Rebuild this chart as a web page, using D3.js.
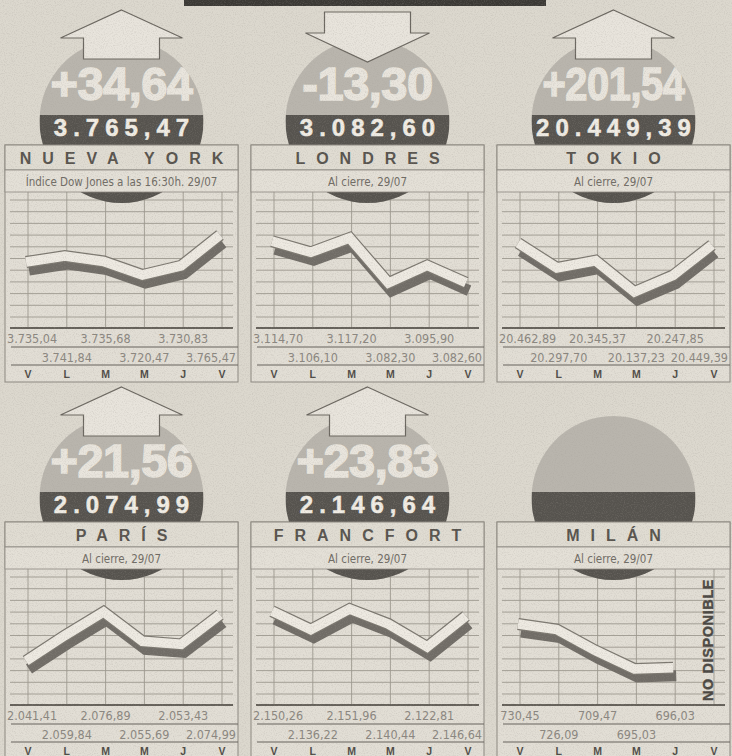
<!DOCTYPE html>
<html>
<head>
    <title>Bolsas internacionales</title>
    <script src="https://cdnjs.cloudflare.com/ajax/libs/d3/7.8.5/d3.min.js"></script>
    <style>
        body {
            margin: 0;
            padding: 0;
            background: #dcd8ce;
        }
        svg {
            display: block;
        }
        .narrow {
            font-family: 'Liberation Sans Narrow', 'DejaVu Sans Condensed', 'Arial Narrow', sans-serif;
        }
        .wide {
            font-family: 'Liberation Sans', Arial, sans-serif;
            font-weight: bold;
        }
    </style>
</head>
<body>
    <div id="chart"></div>

    <script>
        // Markets (one panel each, left to right, top to bottom)
        const markets = ["NUEVA YORK", "LONDRES", "TOKIO", "PARÍS", "FRANCFORT", "MILÁN"];
        const subtitles = [
            "Índice Dow Jones a las 16:30h. 29/07",
            "Al cierre, 29/07",
            "Al cierre, 29/07",
            "Al cierre, 29/07",
            "Al cierre, 29/07",
            "Al cierre, 29/07"
        ];
        const changes = ["+34,64", "-13,30", "+201,54", "+21,56", "+23,83", null];
        const closes = ["3.765,47", "3.082,60", "20.449,39", "2.074,99", "2.146,64", null];
        const days = ["V", "L", "M", "M", "J", "V"];

        // Daily closes, V L M M J V
        const nuevaYork = [3735.04, 3741.84, 3735.68, 3720.47, 3730.83, 3765.47];
        const londres = [3114.70, 3106.10, 3117.20, 3082.30, 3095.90, 3082.60];
        const tokio = [20462.89, 20297.70, 20345.37, 20137.23, 20247.85, 20449.39];
        const paris = [2041.41, 2059.84, 2076.89, 2055.69, 2053.43, 2074.99];
        const francfort = [2150.26, 2136.22, 2151.96, 2140.44, 2122.81, 2146.64];
        const milan = [730.45, 726.09, 709.47, 695.03, 696.03];   // last day not available
        const series = [nuevaYork, londres, tokio, paris, francfort, milan];

        // ---- layout (pixels) ----
        const W = 732, H = 756;
        const colX = [5, 251, 497];
        const rowY = [145, 522];          // top of the name box
        const boxW = 233;
        // vertical span used by each little line chart (offset from plot top)
        const lineTop = [43, 46, 51, 43, 40, 55];
        const lineBottom = [83, 91, 100, 92, 78, 100];

        const col = {
            bg: "#dcd8ce",
            panel: "#e2ded5",
            nameBox: "#e0dcd2",
            subBox: "#e4e0d7",
            stroke: "#8c8880",
            grid: "#9d998f",
            axis: "#65615a",
            circle: "#b9b5ad",
            band: "#56534e",
            bigText: "#e9e5dd",
            closeText: "#f1ede5",
            name: "#57534d",
            sub: "#6f6b64",
            label: "#8a867f",
            day: "#4f4b46",
            arrowFill: "#e8e4dc",
            arrowStroke: "#6a665f",
            ribbon: "#eeeae2",
            ribbonEdge: "#7b776f",
            shadow: "#706c66"
        };

        const es = d3.formatLocale({ decimal: ",", thousands: ".", grouping: [3], currency: ["", ""] });
        const fmt = es.format(",.2f");

        const svg = d3.select("#chart").append("svg")
            .attr("width", W)
            .attr("height", H);

        // paper grain
        const defs = svg.append("defs");
        const grain = defs.append("filter").attr("id", "grain")
            .attr("x", 0).attr("y", 0).attr("width", "100%").attr("height", "100%");
        grain.append("feTurbulence")
            .attr("type", "fractalNoise")
            .attr("baseFrequency", 0.9)
            .attr("numOctaves", 2)
            .attr("seed", 3);
        grain.append("feColorMatrix")
            .attr("type", "matrix")
            .attr("values", "0 0 0 0 0.35  0 0 0 0 0.33  0 0 0 0 0.30  0 0 0 -1.6 0.9");

        svg.append("rect")
            .attr("width", W).attr("height", H)
            .attr("fill", col.bg);

        // dark strip of the headline above
        svg.append("rect")
            .attr("x", 184).attr("y", 0)
            .attr("width", 362).attr("height", 6)
            .attr("fill", "#3b3935");

        markets.forEach((name, i) => drawPanel(i));

        svg.append("rect")
            .attr("width", W).attr("height", H)
            .attr("filter", "url(#grain)")
            .attr("opacity", 0.35)
            .style("pointer-events", "none");

        // squeeze a text horizontally around its anchor if it is wider than maxW
        function fitWidth(sel, ax, maxW) {
            const w = sel.node().getComputedTextLength();
            if (w > maxW) {
                const k = maxW / w;
                sel.attr("transform", `translate(${ax},0) scale(${k},1) translate(${-ax},0)`);
            }
        }

        function drawPanel(i) {
            const bx = colX[i % 3];
            const ht = rowY[Math.floor(i / 3)];
            const cx = bx + boxW / 2;
            const cy = ht - 24;
            const r = 82;
            const plotTop = ht + 47;
            const axisY = ht + 183;
            const g = svg.append("g");

            // panel body with grid
            g.append("rect")
                .attr("x", bx).attr("y", ht)
                .attr("width", boxW).attr("height", 237)
                .attr("fill", col.panel)
                .attr("stroke", col.stroke);

            const x = d3.scaleLinear().domain([0, 5]).range([bx + 21, bx + 215]);
            const gridY = d3.scaleLinear().domain([0, 10]).range([ht + 55, ht + 172]);

            g.selectAll(".hgrid")
                .data(d3.range(11))
                .join("line")
                .attr("x1", bx + 5).attr("x2", bx + boxW - 5)
                .attr("y1", d => gridY(d)).attr("y2", d => gridY(d))
                .attr("stroke", col.grid)
                .attr("stroke-width", 0.9);

            g.selectAll(".vgrid")
                .data(days)
                .join("line")
                .attr("x1", (d, k) => x(k) + 2).attr("x2", (d, k) => x(k) + 2)
                .attr("y1", plotTop).attr("y2", axisY)
                .attr("stroke", col.grid)
                .attr("stroke-width", 0.9);

            g.append("line")
                .attr("x1", bx + 5).attr("x2", bx + boxW - 5)
                .attr("y1", axisY).attr("y2", axisY)
                .attr("stroke", col.axis)
                .attr("stroke-width", 2);

            [ht + 202, ht + 220].forEach(yy => {
                g.append("line")
                    .attr("x1", bx + 6).attr("x2", bx + boxW)
                    .attr("y1", yy).attr("y2", yy)
                    .attr("stroke", col.axis)
                    .attr("stroke-width", 1);
            });

            // circle, dark band under the figure
            const clipId = "clip" + i;
            defs.append("clipPath").attr("id", clipId)
                .append("circle")
                .attr("cx", cx).attr("cy", cy).attr("r", r);

            const disc = g.append("g").attr("clip-path", `url(#${clipId})`);
            disc.append("rect")
                .attr("x", cx - r).attr("y", cy - r)
                .attr("width", 2 * r).attr("height", 2 * r)
                .attr("fill", col.circle);
            disc.append("rect")
                .attr("x", cx - r).attr("y", ht - 30)
                .attr("width", 2 * r).attr("height", 2 * r)
                .attr("fill", col.band);

            if (changes[i]) {
                const big = disc.append("text")
                    .attr("class", "wide")
                    .attr("x", cx).attr("y", ht - 45)
                    .attr("text-anchor", "middle")
                    .attr("font-size", 47)
                    .attr("letter-spacing", -0.5)
                    .attr("fill", col.bigText)
                    .attr("stroke", col.bigText)
                    .attr("stroke-width", 1.4)
                    .text(changes[i]);
                fitWidth(big, cx, 142);

                disc.append("text")
                    .attr("class", "wide")
                    .attr("x", cx + 3).attr("y", ht - 9)
                    .attr("text-anchor", "middle")
                    .attr("font-size", 24)
                    .attr("letter-spacing", 6)
                    .attr("fill", col.closeText)
                    .attr("stroke", col.closeText)
                    .attr("stroke-width", 0.5)
                    .text(closes[i]);

                // arrow, up or down depending on the sign
                const up = changes[i][0] === "+";
                let pts;
                if (up) {
                    pts = [[cx, ht - 135], [cx + 61, ht - 107], [cx + 38, ht - 107], [cx + 38, ht - 86],
                           [cx - 38, ht - 86], [cx - 38, ht - 107], [cx - 61, ht - 107]];
                } else {
                    pts = [[cx - 43, ht - 133], [cx + 43, ht - 133], [cx + 43, ht - 112], [cx + 62, ht - 112],
                           [cx, ht - 83], [cx - 62, ht - 112], [cx - 43, ht - 112]];
                }
                g.append("path")
                    .attr("d", d3.line()(pts) + "Z")
                    .attr("fill", col.arrowFill)
                    .attr("stroke", col.arrowStroke)
                    .attr("stroke-width", 1.2)
                    .attr("stroke-linejoin", "miter");
            }

            // name box and subtitle box
            g.append("rect")
                .attr("x", bx).attr("y", ht)
                .attr("width", boxW).attr("height", 25)
                .attr("fill", col.nameBox)
                .attr("stroke", col.stroke);
            g.append("rect")
                .attr("x", bx).attr("y", ht + 25)
                .attr("width", boxW).attr("height", 22)
                .attr("fill", col.subBox)
                .attr("stroke", col.stroke)
                .attr("stroke-width", 0.8);

            g.append("text")
                .attr("class", "wide")
                .attr("x", cx + 5.5).attr("y", ht + 19)
                .attr("text-anchor", "middle")
                .attr("font-size", 16)
                .attr("letter-spacing", 11)
                .attr("fill", col.name)
                .text(markets[i]);

            g.append("text")
                .attr("class", "narrow")
                .attr("x", cx).attr("y", ht + 41)
                .attr("text-anchor", "middle")
                .attr("font-size", 11.5)
                .attr("fill", col.sub)
                .text(subtitles[i]);

            // the ribbon line with its shadow
            const vals = series[i];
            const y = d3.scaleLinear()
                .domain([d3.min(vals), d3.max(vals)])
                .range([plotTop + lineBottom[i], plotTop + lineTop[i]]);
            const line = d3.line()
                .x((d, k) => x(k))
                .y(d => y(d));

            g.append("path")
                .datum(vals)
                .attr("d", line)
                .attr("transform", "translate(3,8)")
                .attr("fill", "none")
                .attr("stroke", col.shadow)
                .attr("stroke-width", 11)
                .attr("stroke-linejoin", "miter");
            g.append("path")
                .datum(vals)
                .attr("d", line)
                .attr("fill", "none")
                .attr("stroke", col.ribbonEdge)
                .attr("stroke-width", 12)
                .attr("stroke-linejoin", "miter");
            g.append("path")
                .datum(vals)
                .attr("d", line)
                .attr("fill", "none")
                .attr("stroke", col.ribbon)
                .attr("stroke-width", 9.6)
                .attr("stroke-linejoin", "miter");

            if (vals.length < days.length) {
                g.append("text")
                    .attr("class", "wide")
                    .attr("transform", `translate(${bx + 216},${plotTop + 71}) rotate(-90)`)
                    .attr("text-anchor", "middle")
                    .attr("font-size", 14.5)
                    .attr("letter-spacing", 0.6)
                    .attr("fill", "#4a4641")
                    .attr("stroke", "#4a4641")
                    .attr("stroke-width", 0.4)
                    .text("NO DISPONIBLE");
            }

            // value labels, two staggered rows, kept inside the box
            const labels = g.selectAll(".val")
                .data(vals)
                .join("text")
                .attr("class", "narrow")
                .attr("y", (d, k) => k % 2 === 0 ? ht + 198 : ht + 217)
                .attr("font-size", 12.5)
                .attr("fill", col.label)
                .attr("text-anchor", "start")
                .text(d => fmt(d));

            labels.each(function (d, k) {
                const w = this.getComputedTextLength();
                let left = x(k) + 2 - w / 2;
                left = Math.max(bx + 2, Math.min(bx + boxW - 2 - w, left));
                d3.select(this).attr("x", left);
            });

            g.selectAll(".day")
                .data(days)
                .join("text")
                .attr("class", "wide")
                .attr("x", (d, k) => x(k) + 2)
                .attr("y", ht + 233)
                .attr("text-anchor", "middle")
                .attr("font-size", 10.5)
                .attr("fill", col.day)
                .text(d => d);
        }
    </script>
</body>
</html>
